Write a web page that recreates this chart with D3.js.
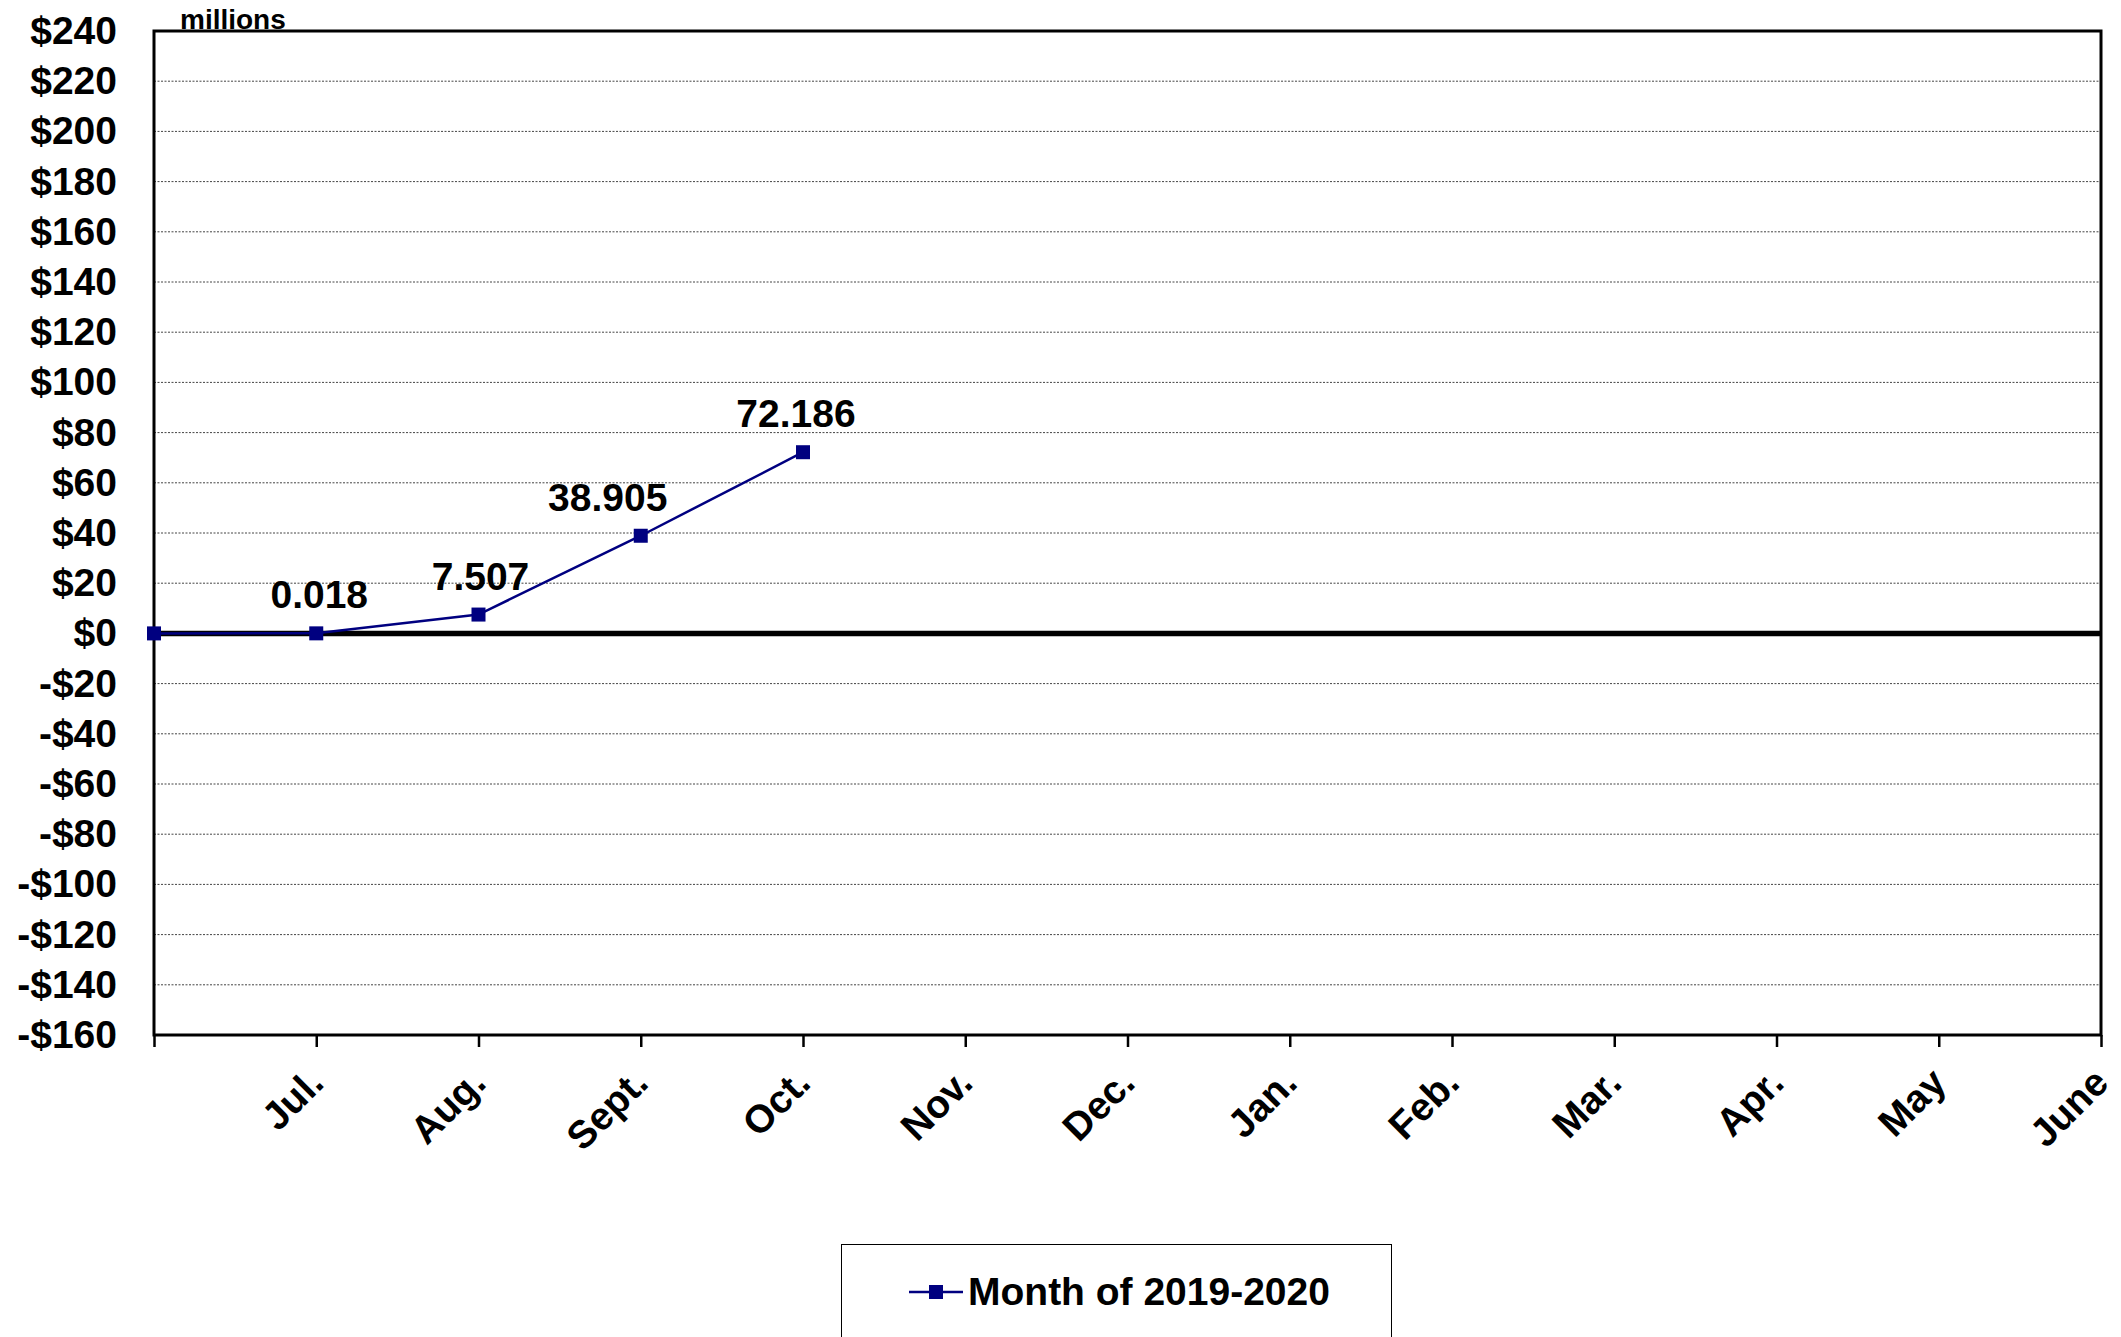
<!DOCTYPE html>
<html>
<head>
<meta charset="utf-8">
<script src="https://cdn.jsdelivr.net/npm/d3@7"></script>
<style>
  body { margin: 0; background: #fff; }
  svg { display: block; font-family: "Liberation Sans", Arial, sans-serif; font-weight: bold; }
  .grid line { stroke: #444; stroke-width: 1; stroke-dasharray: 2,1.5; }
</style>
</head>
<body>
<div id="chart"></div>
<script>
// month slots, first slot is the unlabeled start point
var months = ["", "Jul.", "Aug.", "Sept.", "Oct.", "Nov.", "Dec.", "Jan.", "Feb.", "Mar.", "Apr.", "May", "June"];
var values = [0, 0.018, 7.507, 38.905, 72.186];
var valueLabels = ["", "0.018", "7.507", "38.905", "72.186"];
var yTicks = [-160, -140, -120, -100, -80, -60, -40, -20, 0, 20, 40, 60, 80, 100, 120, 140, 160, 180, 200, 220, 240];
var seriesName = "Month of 2019-2020";

// small horizontal nudges for the data labels, as placed in the original
var labelNudge = [0, 3, 2, -33, -7];

var widthT = 2121, heightT = 1337;
var margin = {top: 31, right: 20, bottom: 302, left: 154},
    width = widthT - margin.left - margin.right,
    height = heightT - margin.top - margin.bottom;

var svg = d3.select("#chart").append("svg")
    .attr("width", widthT)
    .attr("height", heightT);

var x = d3.scalePoint().domain(d3.range(months.length)).range([0, width]);
var y = d3.scaleLinear().domain([-160, 240]).range([height, 0]);

var g = svg.append("g")
    .attr("transform", "translate(" + margin.left + "," + margin.top + ")");

// gridlines
g.append("g")
    .attr("class", "grid")
    .selectAll("line")
    .data(yTicks.filter(function(d) { return d !== 240 && d !== -160 && d !== 0; }))
  .enter().append("line")
    .attr("x1", 0).attr("x2", width)
    .attr("y1", function(d) { return y(d); })
    .attr("y2", function(d) { return y(d); });

// y axis labels
var yAxis = d3.axisLeft(y)
    .tickValues(yTicks)
    .tickSize(0)
    .tickPadding(37)
    .tickFormat(function(d) { return (d < 0 ? "-$" : "$") + Math.abs(d); });

var ya = g.append("g").call(yAxis);
ya.select(".domain").remove();
ya.selectAll("text")
    .attr("font-size", 39)
    .attr("font-family", "Liberation Sans, Arial, sans-serif")
    .attr("fill", "#000");

// x axis ticks
var xAxis = d3.axisBottom(x).tickSize(12).tickFormat("");
var xa = g.append("g")
    .attr("transform", "translate(0," + height + ")")
    .call(xAxis);
xa.select(".domain").remove();
xa.selectAll(".tick line").attr("stroke", "#000").attr("stroke-width", 2.5);

xa.selectAll(".tick")
  .append("text")
    .attr("fill", "#000")
    .attr("font-size", 39)
    .attr("text-anchor", "end")
    .attr("transform", "translate(9,50) rotate(-45)")
    .text(function(d) { return months[d]; });

// plot border
g.append("rect")
    .attr("width", width)
    .attr("height", height)
    .attr("fill", "none")
    .attr("stroke", "#000")
    .attr("stroke-width", 3);

// zero line
g.append("line")
    .attr("x1", 0).attr("x2", width)
    .attr("y1", y(0)).attr("y2", y(0))
    .attr("stroke", "#000")
    .attr("stroke-width", 5.5);

// units label
svg.append("text")
    .attr("x", 180)
    .attr("y", 29)
    .attr("font-size", 28)
    .text("millions");

// series line
var line = d3.line()
    .x(function(d, i) { return x(i); })
    .y(function(d) { return y(d); });

g.append("path")
    .datum(values)
    .attr("fill", "none")
    .attr("stroke", "#000080")
    .attr("stroke-width", 2.5)
    .attr("d", line);

g.selectAll(".marker")
    .data(values)
  .enter().append("rect")
    .attr("class", "marker")
    .attr("x", function(d, i) { return x(i) - 7; })
    .attr("y", function(d) { return y(d) - 7; })
    .attr("width", 14)
    .attr("height", 14)
    .attr("fill", "#000080");

g.selectAll(".dlabel")
    .data(values)
  .enter().append("text")
    .attr("class", "dlabel")
    .attr("x", function(d, i) { return x(i) + labelNudge[i]; })
    .attr("y", function(d) { return y(d) - 25; })
    .attr("text-anchor", "middle")
    .attr("font-size", 39)
    .text(function(d, i) { return valueLabels[i]; });

// legend
var legend = svg.append("g");
legend.append("rect")
    .attr("x", 841.5)
    .attr("y", 1244.5)
    .attr("width", 550)
    .attr("height", 120)
    .attr("fill", "#fff")
    .attr("stroke", "#000")
    .attr("stroke-width", 1);
legend.append("line")
    .attr("x1", 909).attr("x2", 963)
    .attr("y1", 1292).attr("y2", 1292)
    .attr("stroke", "#000080")
    .attr("stroke-width", 2.5);
legend.append("rect")
    .attr("x", 929).attr("y", 1285)
    .attr("width", 14).attr("height", 14)
    .attr("fill", "#000080");
legend.append("text")
    .attr("x", 968)
    .attr("y", 1305)
    .attr("font-size", 39)
    .text(seriesName);
</script>
</body>
</html>
